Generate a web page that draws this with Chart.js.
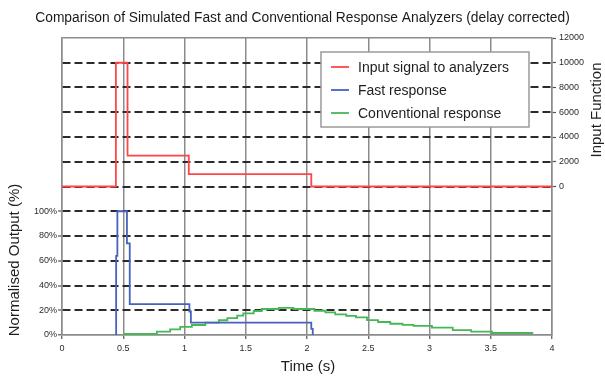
<!DOCTYPE html>
<html>
<head>
<meta charset="utf-8">
<script src="https://cdn.jsdelivr.net/npm/chart.js@4"></script>
<style>
html,body{margin:0;padding:0;background:#fff;}
#c{display:block;}
</style>
</head>
<body>
<canvas id="c" width="605" height="376"></canvas>
<script>
// ---- data ----
const chartTitle = 'Comparison of Simulated Fast and Conventional Response Analyzers (delay corrected)';
const xTitle = 'Time (s)';
const yLeftTitle = 'Normalised Output (%)';
const yRightTitle = 'Input Function';

const xTickLabels = ['0','0.5','1','1.5','2','2.5','3','3.5','4'];
const leftTickLabels = ['0%','20%','40%','60%','80%','100%'];
const rightTickLabels = ['0','2000','4000','6000','8000','10000','12000'];

const seriesNames = ['Input signal to analyzers','Fast response','Conventional response'];
const seriesColors = ['#ff4545','#4762bd','#47b755'];

// Input signal (right axis), step values held until next time
const inputTimes  = [0, 0.44, 0.535, 1.035, 2.035, 4];
const inputValues = [0, 10000, 2500, 1000, 0, 0];

// Fast response (left axis, %)
const fastTimes  = [0.442, 0.442, 0.452, 0.530, 0.553, 1.040, 1.052, 2.035, 2.047];
const fastValues = [0, 64, 100, 74, 25, 19, 10, 5, 0];

// Conventional response (left axis, %)
const convTimes  = [0.5, 0.775, 0.883, 0.965, 1.06, 1.17, 1.28, 1.35, 1.43, 1.48, 1.565, 1.63, 1.77, 1.89, 2.06, 2.15, 2.23, 2.32, 2.40, 2.49, 2.58, 2.68, 2.78, 2.87, 3.02, 3.19, 3.34, 3.51, 3.84];
const convValues = [0.8, 2.7, 4.6, 6.5, 8.1, 10, 11.9, 13.7, 15.6, 17.5, 19.4, 21, 22, 21, 19.6, 18.3, 16.7, 15.5, 14.3, 12, 10.5, 9.1, 8.2, 7.3, 5.9, 4, 2.7, 1.6, 1];

const pts = (xs, ys) => xs.map((x, i) => ({x: x, y: ys[i]}));

const FONT = '"Liberation Sans", Arial, sans-serif';
const GRAY = '#8c8c8c';
const DARK = '#2b2b2b';

const legendPlugin = {
  id: 'boxLegend',
  afterDatasetsDraw(chart) {
    const ctx = chart.ctx;
    const bx = 321, by = 52, bw = 208, bh = 75;
    ctx.save();
    ctx.fillStyle = '#fff';
    ctx.fillRect(bx, by, bw, bh);
    ctx.strokeStyle = '#9a9a9a';
    ctx.lineWidth = 1.5;
    ctx.strokeRect(bx, by, bw, bh);
    ctx.font = '14px ' + FONT;
    ctx.textBaseline = 'middle';
    ctx.textAlign = 'left';
    chart.data.datasets.forEach((ds, i) => {
      const y = 67 + i * 23;
      ctx.strokeStyle = ds.borderColor;
      ctx.lineWidth = 1.8;
      ctx.beginPath();
      ctx.moveTo(331, y);
      ctx.lineTo(349, y);
      ctx.stroke();
      ctx.fillStyle = '#1e1e1e';
      ctx.fillText(ds.label, 358, y + 1);
    });
    ctx.restore();
  }
};

const axisTitlePlugin = {
  id: 'axisTitles',
  afterDraw(chart) {
    const ctx = chart.ctx;
    ctx.save();
    ctx.fillStyle = '#1e1e1e';
    ctx.font = '15px ' + FONT;
    ctx.textAlign = 'center';
    ctx.textBaseline = 'middle';
    ctx.fillText(xTitle, 308, 367);
    ctx.translate(15, 260);
    ctx.rotate(-Math.PI / 2);
    ctx.fillText(yLeftTitle, 0, 0);
    ctx.restore();
    ctx.save();
    ctx.fillStyle = '#1e1e1e';
    ctx.font = '15px ' + FONT;
    ctx.textAlign = 'center';
    ctx.textBaseline = 'middle';
    ctx.translate(597, 110);
    ctx.rotate(-Math.PI / 2);
    ctx.fillText(yRightTitle, 0, 0);
    ctx.restore();
  }
};

const isEdge = v => v === 0 || v === 240;

new Chart(document.getElementById('c'), {
  type: 'line',
  data: {
    datasets: [
      {label: seriesNames[0], data: pts(inputTimes, inputValues), yAxisID: 'y2', borderColor: seriesColors[0]},
      {label: seriesNames[1], data: pts(fastTimes, fastValues), yAxisID: 'y', borderColor: seriesColors[1]},
      {label: seriesNames[2], data: pts(convTimes, convValues), yAxisID: 'y', borderColor: seriesColors[2]}
    ]
  },
  options: {
    responsive: false,
    animation: false,
    parsing: true,
    elements: {
      line: {borderWidth: 1.8, stepped: 'before', fill: false, tension: 0},
      point: {radius: 0, hoverRadius: 0}
    },
    layout: {padding: 0},
    plugins: {
      legend: {display: false},
      tooltip: {enabled: false},
      title: {
        display: true,
        text: chartTitle,
        color: '#1a1a1a',
        font: {family: FONT, size: 13.8, weight: 'normal', lineHeight: 1.2},
        padding: {top: 9.7, bottom: 11.74}
      }
    },
    scales: {
      x: {
        type: 'linear',
        position: 'bottom',
        min: 0, max: 4,
        ticks: {
          stepSize: 0.5,
          color: DARK,
          font: {family: FONT, size: 9},
          padding: 4,
          maxRotation: 0,
          callback: (v, i) => xTickLabels[i]
        },
        grid: {color: GRAY, lineWidth: 1.5, tickLength: 4, tickColor: '#555', tickWidth: 1.2},
        border: {display: true, color: GRAY, width: 1.5},
        afterFit: s => { s.height = 41; }
      },
      y: {
        type: 'linear',
        position: 'left',
        min: 0, max: 240,
        ticks: {
          stepSize: 20,
          color: DARK,
          font: {family: FONT, size: 9},
          padding: 1,
          callback: (v) => (v <= 100 ? leftTickLabels[Math.round(v / 20)] : '')
        },
        grid: {
          color: ctx => (ctx.tick && isEdge(ctx.tick.value)) ? GRAY : DARK,
          lineWidth: ctx => (ctx.tick && isEdge(ctx.tick.value)) ? 1.5 : 2,
          tickLength: 4,
          tickWidth: 1.2,
          tickColor: ctx => (ctx.tick && ctx.tick.value <= 100) ? '#555' : 'rgba(0,0,0,0)'
        },
        border: {
          display: true, color: GRAY, width: 1.5,
          dash: ctx => (ctx.tick && !isEdge(ctx.tick.value)) ? [8, 4] : []
        },
        afterFit: s => { s.width = 62; }
      },
      y2: {
        type: 'linear',
        position: 'right',
        min: -12000, max: 12000,
        ticks: {
          stepSize: 2000,
          color: DARK,
          font: {family: FONT, size: 9},
          padding: 3,
          callback: (v) => (v >= 0 ? rightTickLabels[Math.round(v / 2000)] : '')
        },
        grid: {
          drawOnChartArea: false,
          tickLength: 4,
          tickWidth: 1.2,
          tickColor: ctx => (ctx.tick && ctx.tick.value >= 0) ? '#555' : 'rgba(0,0,0,0)'
        },
        border: {display: true, color: GRAY, width: 1.5},
        afterFit: s => { s.width = 53; }
      }
    }
  },
  plugins: [legendPlugin, axisTitlePlugin]
});
</script>
</body>
</html>
